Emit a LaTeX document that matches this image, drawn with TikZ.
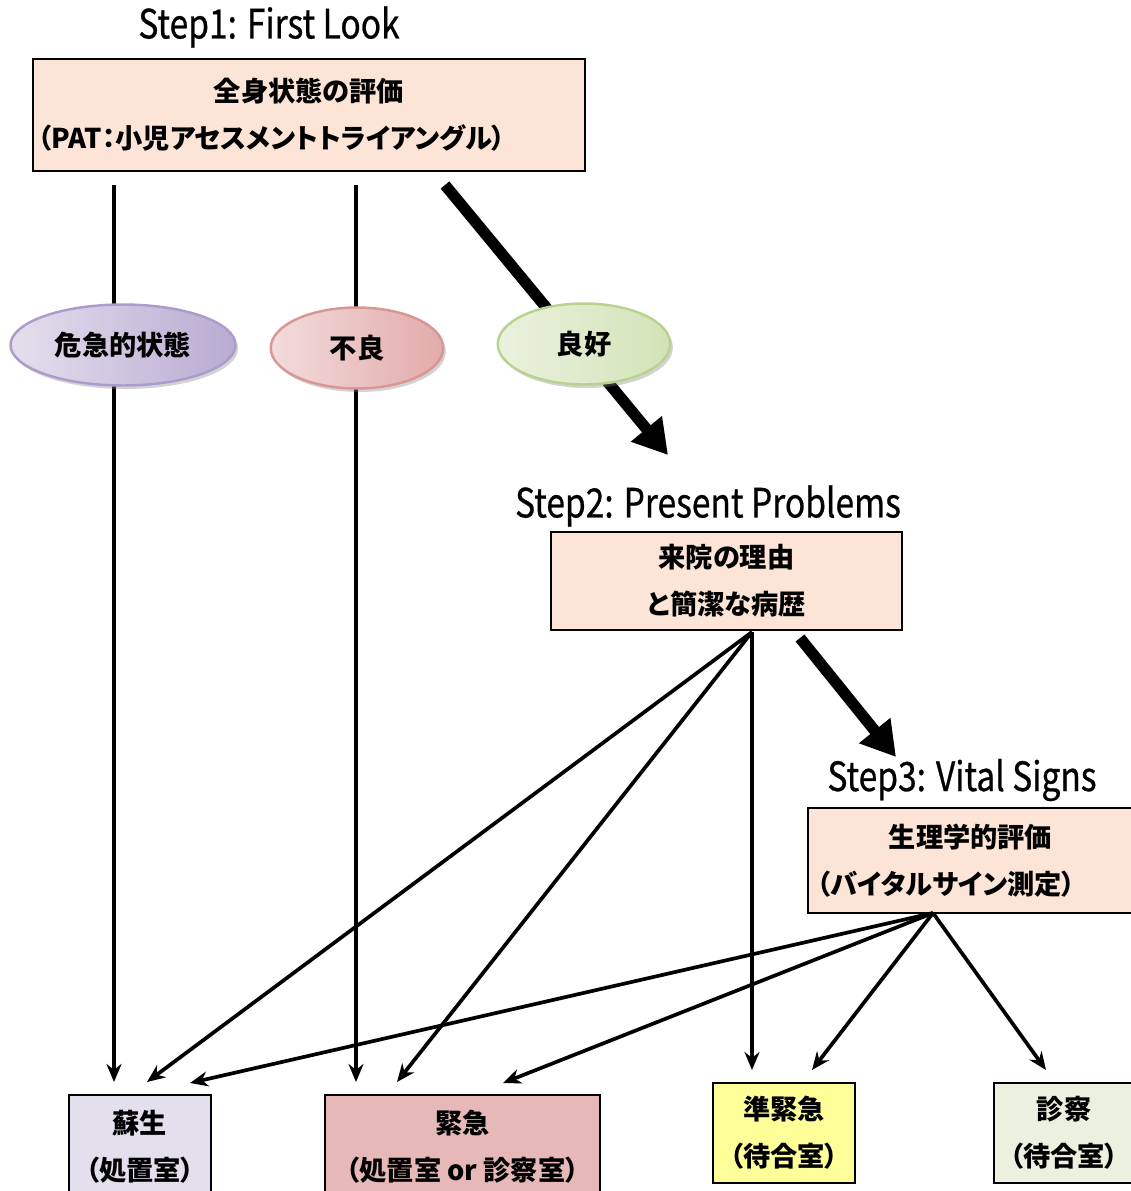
\documentclass[tikz,border=0pt]{standalone}
\usepackage{fontspec}
\setmainfont[RawFeature=+palt]{Noto Sans CJK JP}
\newfontfamily\stepfont[FakeStretch=0.83,FakeBold=0.6]{Noto Sans CJK JP}
\usetikzlibrary{arrows.meta,shapes.geometric,shadows}
\definecolor{peach}{HTML}{FCE4D6}
\definecolor{lavend}{HTML}{E4DFEC}
\definecolor{rose}{HTML}{E6B9B8}
\definecolor{lemon}{HTML}{FFFF99}
\definecolor{mint}{HTML}{EBF1DE}
\definecolor{critdark}{HTML}{B9ABD3}
\definecolor{critline}{HTML}{AC9CCB}
\definecolor{badlight}{HTML}{F2DCDB}
\definecolor{baddark}{HTML}{E2ABAA}
\definecolor{badline}{HTML}{D99694}
\definecolor{gooddark}{HTML}{D3E3B7}
\definecolor{goodline}{HTML}{B8D38F}
\begin{document}
\begin{tikzpicture}[x=0.02cm,y=-0.02cm,
  box/.style={draw=black,line width=0.9pt,inner sep=0pt,align=center,
    font=\bfseries\fontsize{15.5pt}{26.7pt}\selectfont},
  oval/.style n args={3}{ellipse,draw=#3,line width=1.4pt,left color=#1,right color=#2,
    minimum height=1.62cm,inner sep=0pt,font=\bfseries\fontsize{15.5pt}{18pt}\selectfont,
    drop shadow={shadow xshift=1.5pt,shadow yshift=-2pt,opacity=0.35}},
  steptitle/.style={font=\stepfont\fontsize{23pt}{26pt}\selectfont,inner sep=0pt},
  thin/.style={line width=2.1pt,-{Stealth[length=0.36cm,width=0.3cm]}},
  fat/.style={line width=6.4pt,-{Triangle[length=0.68cm,width=0.76cm]}}]
\useasboundingbox (0,0) rectangle (1131,1191);
% titles
\node[steptitle] (t1) at (269,27) {Step1: First Look};
\node[steptitle] (t2) at (708,506) {Step2: Present Problems};
\node[steptitle] (t3) at (962,780) {Step3: Vital Signs};
% step boxes
\node[box,fill=peach,minimum width=11.04cm,minimum height=2.24cm,text width=10.84cm,align=left]
  (s1) at (309,115) {\makebox[10.84cm]{全身状態の評価}\\（PAT：小児アセスメントトライアングル）};
\node[box,fill=peach,minimum width=7.02cm,minimum height=1.96cm]
  (s2) at (726.5,581) {来院の理由\\と簡潔な病歴};
\node[box,fill=peach,minimum width=6.5cm,minimum height=2.1cm,text width=6.14cm,align=left]
  (s3) at (970.5,860.5) {\makebox[6.14cm]{生理学的評価}\\（バイタルサイン測定）};
% result boxes
\node[box,fill=lavend,minimum width=2.84cm,minimum height=2.06cm] (rescue) at (140,1146.5) {蘇生\\（処置室）};
\node[box,fill=rose,minimum width=5.5cm,minimum height=2.06cm] (urgent) at (462.5,1146.5) {緊急\\（処置室 or 診察室）};
\node[box,fill=lemon,minimum width=2.84cm,minimum height=2cm] (semi) at (784,1133) {準緊急\\（待合室）};
\node[box,fill=mint,minimum width=2.8cm,minimum height=2cm] (exam) at (1064,1133) {診察\\（待合室）};
% connector ends
\coordinate (a1) at (114,185);   \coordinate (a1e) at (114,1082);
\coordinate (a2) at (356,185);   \coordinate (a2e) at (356,1082);
\coordinate (a3) at (445,185);   \coordinate (a3e) at (668,455);
\coordinate (s2out) at (752,632);
\coordinate (b1) at (147,1082);  \coordinate (b2) at (397,1082);  \coordinate (b3) at (752,1070);
\coordinate (b4) at (800,638);   \coordinate (b4e) at (896,757);
\coordinate (s3out) at (933,913);
\coordinate (c1) at (190,1083);  \coordinate (c2) at (503,1083);
\coordinate (c3) at (812,1070);  \coordinate (c4) at (1046,1070);
\draw[thin] (a1) -- (a1e);
\draw[thin] (a2) -- (a2e);
\draw[fat] (a3) -- (a3e);
\foreach \e in {b1,b2,b3} \draw[thin] (s2out) -- (\e);
\draw[fat] (b4) -- (b4e);
\foreach \e in {c1,c2,c3,c4} \draw[thin] (s3out) -- (\e);
% ovals over the lines
\node[oval={lavend}{critdark}{critline},minimum width=4.5cm] (crit) at (123,345) {危急的状態};
\node[oval={badlight}{baddark}{badline},minimum width=3.45cm] (bad) at (357,348) {不良};
\node[oval={mint}{gooddark}{goodline},minimum width=3.45cm] (good) at (584,344) {良好};
\end{tikzpicture}
\end{document}
